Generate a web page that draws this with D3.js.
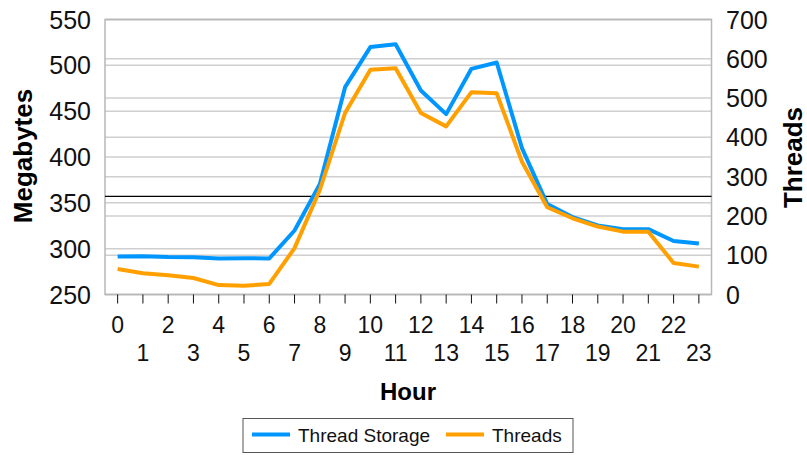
<!DOCTYPE html>
<html>
<head>
<meta charset="utf-8">
<script src="https://cdn.jsdelivr.net/npm/d3@7/dist/d3.min.js"></script>
<style>
  html, body { margin: 0; padding: 0; background: #fff; }
  svg { display: block; font-family: "Liberation Sans", Arial, sans-serif; }
</style>
</head>
<body>
<svg id="chart" width="807" height="455"></svg>
<script>
// Hourly thread storage (MB, left axis) and thread count (right axis)
const hours = d3.range(0, 24);
const threadStorage = [291.5, 291.8, 290.8, 290.6, 289.3, 289.6, 289.3, 319.8, 370.4, 476.2, 519.9, 523.0,
                       472.5, 446.8, 496.2, 503.1, 409.7, 348.6, 334.4, 325.3, 321.3, 321.3, 308.3, 305.6];
const threads = [65, 54, 49, 42, 24, 22, 27, 118, 266, 462, 572, 576,
                 462, 428, 515, 512, 338, 222, 194, 173, 160, 160, 80, 71];
const leftTicks = [250, 300, 350, 400, 450, 500, 550];
const rightTicks = [0, 100, 200, 300, 400, 500, 600, 700];
const threadLimit = 250;
const seriesNames = ["Thread Storage", "Threads"];
const colors = ["#0096ff", "#ffa000"];

const svg = d3.select("#chart");
const plot = { left: 105, right: 711.5, top: 19.5, bottom: 294.5 };

const x = d3.scaleBand().domain(hours).range([plot.left, plot.right]);
const yL = d3.scaleLinear().domain([250, 550]).range([plot.bottom, plot.top]);
const yR = d3.scaleLinear().domain([0, 700]).range([plot.bottom, plot.top]);
const cx = h => x(h) + x.bandwidth() / 2;

// Gridlines for both axes
const grid = svg.append("g");
leftTicks.forEach(v => grid.append("line")
  .attr("x1", plot.left).attr("x2", plot.right)
  .attr("y1", yL(v)).attr("y2", yL(v))
  .attr("stroke", "#cfcfcf").attr("stroke-width", 1.5));
rightTicks.forEach(v => grid.append("line")
  .attr("x1", plot.left).attr("x2", plot.right)
  .attr("y1", yR(v)).attr("y2", yR(v))
  .attr("stroke", "#cfcfcf").attr("stroke-width", 1.5));

// Plot frame
svg.append("rect")
  .attr("x", plot.left).attr("y", plot.top)
  .attr("width", plot.right - plot.left).attr("height", plot.bottom - plot.top)
  .attr("fill", "none").attr("stroke", "#b8b8b8").attr("stroke-width", 1.5);

// Reference line at the thread limit
svg.append("line")
  .attr("x1", plot.left).attr("x2", plot.right)
  .attr("y1", yR(threadLimit)).attr("y2", yR(threadLimit))
  .attr("stroke", "#000").attr("stroke-width", 1.3);

// Left axis labels
svg.append("g").selectAll("text").data(leftTicks).join("text")
  .attr("x", 91).attr("y", d => yL(d)).attr("dy", "0.36em")
  .attr("text-anchor", "end").attr("font-size", 25).attr("fill", "#111")
  .text(d => d);

// Right axis labels
svg.append("g").selectAll("text").data(rightTicks).join("text")
  .attr("x", 726).attr("y", d => yR(d)).attr("dy", "0.36em")
  .attr("text-anchor", "start").attr("font-size", 25).attr("fill", "#111")
  .text(d => d);

// X axis ticks and staggered labels
const xg = svg.append("g");
xg.selectAll("line").data(hours).join("line")
  .attr("x1", cx).attr("x2", cx)
  .attr("y1", plot.bottom).attr("y2", plot.bottom + 9)
  .attr("stroke", "#111").attr("stroke-width", 1);
xg.selectAll("text").data(hours).join("text")
  .attr("x", cx)
  .attr("y", d => d % 2 === 0 ? 333 : 361)
  .attr("text-anchor", "middle").attr("font-size", 23).attr("fill", "#111")
  .text(d => d);

// Axis titles
svg.append("text").attr("x", 408).attr("y", 400)
  .attr("text-anchor", "middle").attr("font-size", 24).attr("font-weight", "bold")
  .text("Hour");
svg.append("text")
  .attr("transform", "translate(32, 156) rotate(-90)")
  .attr("text-anchor", "middle").attr("font-size", 26).attr("font-weight", "bold")
  .text("Megabytes");
svg.append("text")
  .attr("transform", "translate(802, 157.5) rotate(-90)")
  .attr("text-anchor", "middle").attr("font-size", 26).attr("font-weight", "bold")
  .text("Threads");

// Series lines
const lineL = d3.line().x((d, i) => cx(hours[i])).y(d => yL(d));
const lineR = d3.line().x((d, i) => cx(hours[i])).y(d => yR(d));
svg.append("path").datum(threadStorage).attr("d", lineL)
  .attr("fill", "none").attr("stroke", colors[0]).attr("stroke-width", 4)
  .attr("stroke-linejoin", "round");
svg.append("path").datum(threads).attr("d", lineR)
  .attr("fill", "none").attr("stroke", colors[1]).attr("stroke-width", 4)
  .attr("stroke-linejoin", "round");

// Legend
const lg = svg.append("g");
lg.append("rect").attr("x", 243).attr("y", 418.5).attr("width", 330).attr("height", 34)
  .attr("fill", "#fff").attr("stroke", "#555").attr("stroke-width", 1);
const legendItems = [
  { name: seriesNames[0], color: colors[0], x: 252, tx: 298 },
  { name: seriesNames[1], color: colors[1], x: 446, tx: 492 }
];
legendItems.forEach(it => {
  lg.append("line").attr("x1", it.x).attr("x2", it.x + 38)
    .attr("y1", 434.5).attr("y2", 434.5)
    .attr("stroke", it.color).attr("stroke-width", 4);
  lg.append("text").attr("x", it.tx).attr("y", 435).attr("dy", "0.36em")
    .attr("font-size", 19).attr("fill", "#111").text(it.name);
});
</script>
</body>
</html>
